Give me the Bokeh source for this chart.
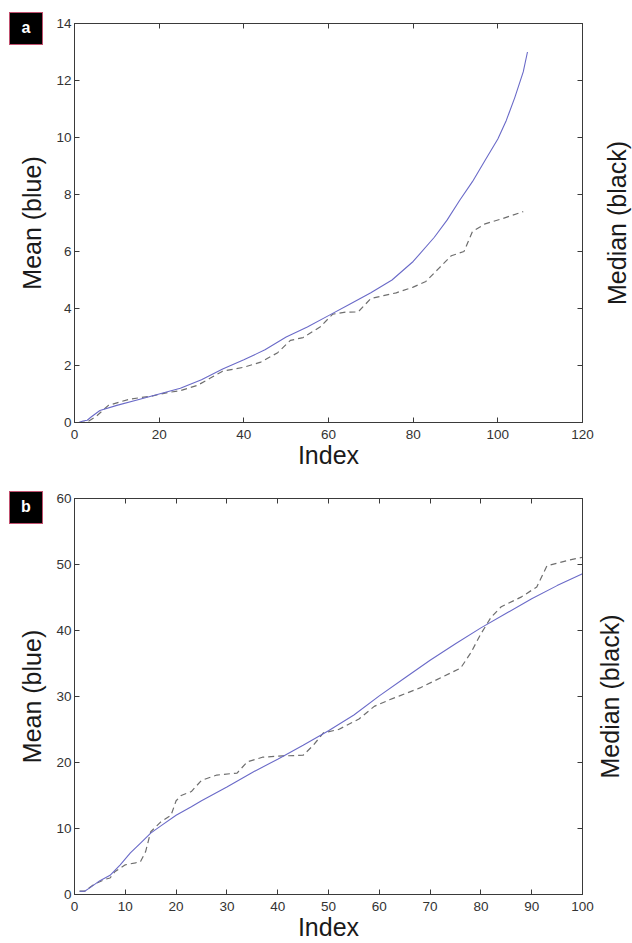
import math
from bokeh.plotting import figure
from bokeh.models import LinearAxis, Label, FixedTicker, Range1d, CustomJSTickFormatter, Div
from bokeh.layouts import column
from bokeh.embed import file_html
from bokeh.resources import INLINE

# ---------------- data ----------------
a_mean_x = [1, 2, 3, 4, 6, 10, 15, 20, 25, 30, 35, 40, 45, 50, 55, 60, 65, 70, 75, 80,
            85, 88, 91, 94, 97, 100, 102, 104, 106, 107]
a_mean_y = [0.0, 0.05, 0.08, 0.2, 0.42, 0.6, 0.8, 1.0, 1.2, 1.5, 1.88, 2.2, 2.55, 3.0, 3.35,
            3.75, 4.15, 4.55, 5.0, 5.65, 6.5, 7.1, 7.8, 8.45, 9.2, 9.95, 10.6, 11.4, 12.3, 13.0]
a_med_x = [1, 3, 5, 8, 13, 18, 22, 25, 29, 32, 35, 40, 44, 48, 51, 54, 58, 61, 64, 67, 70,
           73, 76, 80, 83, 86, 89, 92, 94, 97, 101, 106]
a_med_y = [0.0, 0.02, 0.2, 0.6, 0.82, 0.92, 1.05, 1.12, 1.3, 1.55, 1.8, 1.94, 2.12, 2.45, 2.88,
           2.98, 3.35, 3.8, 3.87, 3.88, 4.35, 4.45, 4.55, 4.75, 4.95, 5.4, 5.85, 6.0, 6.7, 6.97,
           7.15, 7.4]

b_mean_x = [1, 2, 3, 5, 7, 9, 11, 13, 15, 17, 20, 23, 25, 30, 35, 40, 45, 50, 55, 60, 65, 70,
            75, 80, 85, 90, 95, 100]
b_mean_y = [0.5, 0.5, 1.0, 2.1, 2.9, 4.5, 6.3, 7.8, 9.3, 10.4, 12.0, 13.3, 14.2, 16.3, 18.5,
            20.5, 22.6, 24.8, 27.2, 30.1, 32.8, 35.5, 38.0, 40.4, 42.6, 44.8, 46.8, 48.6]
b_med_x = [1, 2, 4, 6, 7, 8, 10, 12, 13, 14, 15, 17, 19, 20, 21, 23, 25, 28, 32, 34, 37, 41,
           45, 47, 49, 52, 56, 59, 62, 64, 68, 72, 76, 78, 80, 82, 84, 88, 91, 93, 97, 100]
b_med_y = [0.5, 0.5, 1.6, 2.3, 2.5, 3.5, 4.5, 4.8, 5.0, 6.5, 9.5, 11.0, 12.0, 14.2, 15.0, 15.6,
           17.3, 18.1, 18.4, 20.1, 20.8, 21.0, 21.1, 22.6, 24.5, 25.0, 26.6, 28.5, 29.5, 30.1,
           31.3, 32.8, 34.3, 36.6, 39.5, 42.0, 43.6, 45.1, 46.6, 49.8, 50.6, 51.1]

a_xticks = [0, 20, 40, 60, 80, 100, 120]
a_yticks = [0, 2, 4, 6, 8, 10, 12, 14]
b_xticks = [0, 10, 20, 30, 40, 50, 60, 70, 80, 90, 100]
b_yticks = [0, 10, 20, 30, 40, 50, 60]

FONT = "Liberation Sans"
BLUE = "#6a6ac8"
DASH = "#6e6e6e"
AXC = "#3a3a3a"


def style_axis(ax, show_labels, ticks):
    ax.ticker = FixedTicker(ticks=ticks)
    ax.axis_line_color = AXC
    ax.major_tick_line_color = AXC
    ax.major_tick_in = 5
    ax.major_tick_out = 0
    ax.minor_tick_line_color = None
    ax.major_label_text_font = FONT
    ax.major_label_text_color = "#333333"
    ax.major_label_text_font_size = "13.5px"
    ax.axis_label_text_font = FONT
    ax.axis_label_text_font_size = "25px"
    ax.axis_label_text_font_style = "normal"
    ax.axis_label_text_color = "#1a1a1a"
    if not show_labels:
        ax.formatter = CustomJSTickFormatter(code="return ''")
        ax.major_label_text_font_size = "0px"
        ax.major_label_standoff = 0
        ax.axis_label_standoff = 0


def panel(xmax, ymax, xticks, yticks, mx, my, dx, dy, height, top, frame_h, right_x):
    p = figure(width=632, height=height, x_range=Range1d(0, xmax), y_range=Range1d(0, ymax),
               output_backend="svg", toolbar_location=None,
               min_border_left=74, min_border_right=50, min_border_top=top,
               min_border_bottom=height - top - frame_h,
               x_axis_label="Index", y_axis_label="Mean (blue)")
    p.grid.visible = False
    p.outline_line_color = AXC
    p.background_fill_color = "white"
    p.border_fill_color = "white"
    style_axis(p.xaxis[0], True, xticks)
    style_axis(p.yaxis[0], True, yticks)
    p.xaxis[0].major_label_standoff = 7
    p.xaxis[0].axis_label_standoff = -1
    p.yaxis[0].major_label_standoff = 3
    p.yaxis[0].axis_label_standoff = 7

    top_ax = LinearAxis()
    style_axis(top_ax, False, xticks)
    p.add_layout(top_ax, "above")
    right_ax = LinearAxis()
    style_axis(right_ax, False, yticks)
    p.add_layout(right_ax, "right")

    p.line(dx, dy, line_color=DASH, line_width=1.2, line_dash="6 4")
    p.line(mx, my, line_color=BLUE, line_width=1.1)

    # right-hand axis title, reading bottom to top
    med = Label(x=right_x, y=frame_h / 2, x_units="screen", y_units="screen",
                text="Median (black)", text_font=FONT, text_font_size="25px",
                text_color="#1a1a1a", angle=math.pi / 2,
                text_align="center", text_baseline="middle")
    p.add_layout(med, "right")
    return p


def letter_box(letter, left, top):
    return Div(text=letter, width=34, height=33, margin=0, styles={
        "position": "absolute", "left": f"{left}px", "top": f"{top}px",
        "margin": "0px", "padding": "0px",
        "width": "34px", "height": "33px", "box-sizing": "border-box",
        "z-index": "10", "background-color": "black", "border": "1px solid #c0506e",
        "color": "white", "font-family": FONT, "font-weight": "bold",
        "font-size": "16px", "text-align": "center", "line-height": "30px",
    })


pa = panel(120, 14, a_xticks, a_yticks, a_mean_x, a_mean_y, a_med_x, a_med_y,
           height=478, top=23, frame_h=399, right_x=34)
pb = panel(100, 60, b_xticks, b_yticks, b_mean_x, b_mean_y, b_med_x, b_med_y,
           height=465, top=20, frame_h=396, right_x=27)

layout = column(pa, pb, letter_box("a", 9, 12), letter_box("b", 9, 491))
open("out.html", "w").write(file_html(layout, INLINE))
